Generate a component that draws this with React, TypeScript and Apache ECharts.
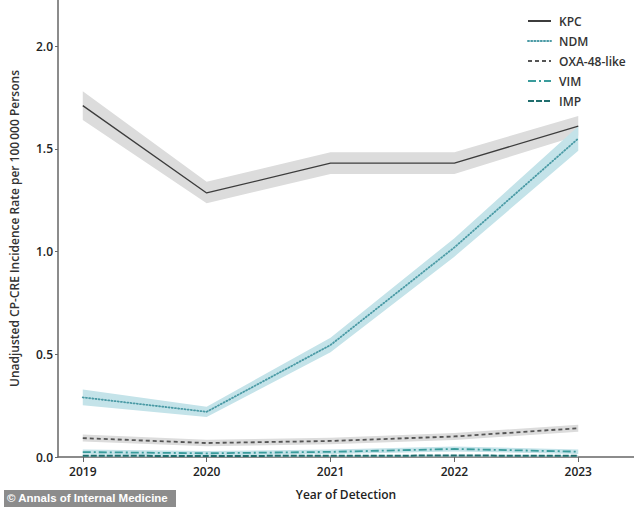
import React, { useEffect, useRef } from "react";
import * as echarts from "echarts";

const years = [2019, 2020, 2021, 2022, 2023];
const yTicks = [0, 0.5, 1.0, 1.5, 2.0];

const kpc = [1.71, 1.285, 1.43, 1.43, 1.61];
const kpcLo = [1.64, 1.235, 1.377, 1.377, 1.565];
const kpcHi = [1.78, 1.34, 1.483, 1.483, 1.66];

const ndm = [0.29, 0.22, 0.545, 1.02, 1.55];
const ndmLo = [0.252, 0.195, 0.51, 0.975, 1.49];
const ndmHi = [0.328, 0.245, 0.58, 1.065, 1.61];

const oxa = [0.092, 0.068, 0.078, 0.1, 0.14];
const oxaLo = [0.075, 0.052, 0.062, 0.083, 0.123];
const oxaHi = [0.109, 0.084, 0.094, 0.117, 0.157];

const vim = [0.024, 0.018, 0.025, 0.039, 0.026];
const vimLo = [0.012, 0.007, 0.014, 0.027, 0.015];
const vimHi = [0.036, 0.029, 0.036, 0.051, 0.037];

const imp = [0.006, 0.005, 0.006, 0.007, 0.006];
const impLo = [0.002, 0.001, 0.002, 0.003, 0.002];
const impHi = [0.01, 0.009, 0.01, 0.011, 0.01];

const FONT = "'Open Sans', 'Noto Sans', sans-serif";

function pairs(vals: number[]) {
  return years.map((y, i) => [y, vals[i]]);
}

function band(key: string, lo: number[], hi: number[], color: string, z: number) {
  return {
    name: key,
    type: "custom",
    silent: true,
    z,
    data: years.map((y, i) => [y, lo[i], hi[i]]),
    encode: { x: 0, y: [1, 2] },
    renderItem: (params: any, api: any) => {
      if (params.dataIndex !== 0) return null;
      const upper = years.map((y, i) => api.coord([y, hi[i]]));
      const lower = years.map((y, i) => api.coord([y, lo[i]])).reverse();
      return {
        type: "polygon",
        shape: { points: upper.concat(lower) },
        style: { fill: color },
      };
    },
  };
}

function line(name: string, vals: number[], color: string, type: any, width: number, cap: string) {
  return {
    name,
    type: "line",
    data: pairs(vals),
    symbol: "none",
    showSymbol: false,
    lineStyle: { color, type, width, cap },
    itemStyle: { color },
    z: 10,
  };
}

export default function App() {
  const ref = useRef<HTMLDivElement>(null);
  useEffect(() => {
    document.body.style.margin = "0";
    const chart = echarts.init(ref.current!, null, { renderer: "svg" });
    const gray = "#dcdcdc";
    const blue = "#c4e3e9";
    chart.setOption({
      animation: false,
      backgroundColor: "#ffffff",
      grid: { left: 53, right: 0, top: 0, bottom: 50 },
      legend: {
        orient: "vertical",
        left: 522,
        top: 10,
        itemWidth: 23,
        itemHeight: 12,
        itemGap: 8,
        data: ["KPC", "NDM", "OXA-48-like", "VIM", "IMP"],
        itemStyle: { opacity: 0 },
        textStyle: {
          fontFamily: FONT,
          fontSize: 12,
          fontWeight: 600,
          color: "#333",
          padding: [0, 0, 0, 3],
        },
      },
      xAxis: {
        type: "value",
        min: 2018.8,
        max: 2023.45,
        name: "Year of Detection",
        nameLocation: "middle",
        nameGap: 31,
        nameTextStyle: { fontFamily: FONT, fontSize: 12, fontWeight: 600, color: "#222" },
        axisLine: { lineStyle: { color: "#666", width: 1.5 } },
        axisTick: { customValues: years, length: 5, lineStyle: { color: "#666" } },
        axisLabel: {
          customValues: years,
          margin: 8,
          formatter: (v: number) => String(v),
          fontFamily: FONT,
          fontSize: 12,
          fontWeight: 600,
          color: "#222",
        },
        splitLine: { show: false },
      },
      yAxis: {
        type: "value",
        min: 0,
        max: 2.224,
        name: "Unadjusted CP-CRE Incidence Rate per 100\u2009000 Persons",
        nameLocation: "middle",
        nameGap: 38,
        nameTextStyle: { fontFamily: FONT, fontSize: 12, fontWeight: 600, color: "#333" },
        axisLine: { show: true, lineStyle: { color: "#666", width: 1.5 } },
        axisTick: { show: true, customValues: yTicks, length: 3, lineStyle: { color: "#666" } },
        axisLabel: {
          customValues: yTicks,
          margin: 5,
          formatter: (v: number) => v.toFixed(1),
          fontFamily: FONT,
          fontSize: 12,
          fontWeight: 600,
          color: "#222",
        },
        splitLine: { show: false },
      },
      graphic: [
        {
          type: "rect",
          left: 4,
          top: 490,
          shape: { width: 172, height: 17 },
          style: { fill: "#8c8c8c" },
          z: 100,
        },
        {
          type: "text",
          left: 7,
          top: 492,
          style: {
            text: "\u00a9 Annals of Internal Medicine",
            fill: "#ffffff",
            fontFamily: "'Liberation Sans', Arial, sans-serif",
            fontSize: 11.5,
            fontWeight: "bold",
          },
          z: 101,
        },
      ],
      series: [
        band("kpcB", kpcLo, kpcHi, gray, 1),
        band("oxaB", oxaLo, oxaHi, gray, 1),
        band("ndmB", ndmLo, ndmHi, blue, 2),
        band("vimB", vimLo, vimHi, blue, 2),
        band("impB", impLo, impHi, blue, 2),
        line("KPC", kpc, "#3c3c3c", "solid", 1.3, "butt"),
        line("NDM", ndm, "#4a9aa5", [1, 2.2], 1.8, "round"),
        line("OXA-48-like", oxa, "#555555", [4, 3], 1.8, "butt"),
        line("VIM", vim, "#3a9c9c", [8, 3, 2, 3], 1.8, "butt"),
        line("IMP", imp, "#1f6d6d", [6, 2], 2, "butt"),
      ],
    });
    return () => chart.dispose();
  }, []);
  return <div ref={ref} style={{ width: 634, height: 507 }} />;
}
